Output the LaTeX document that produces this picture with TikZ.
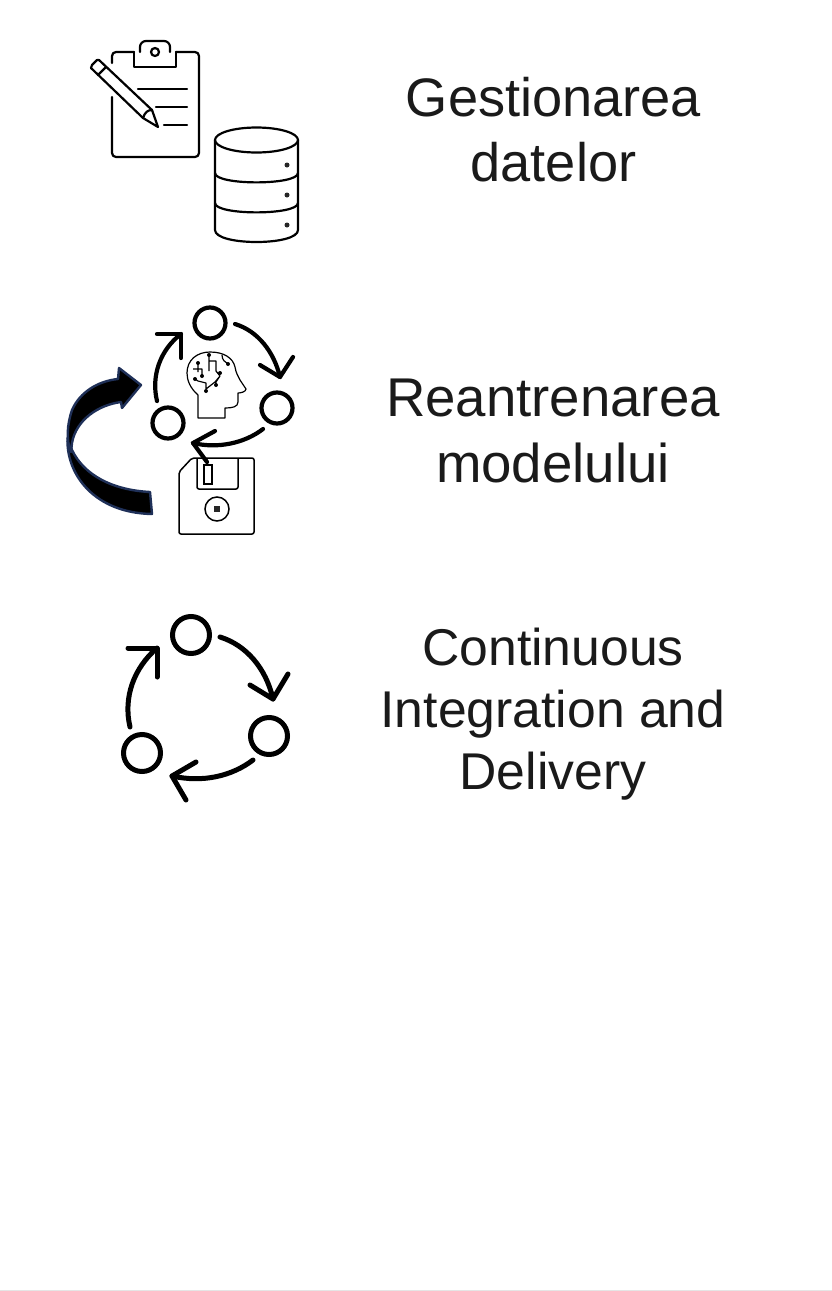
\documentclass[tikz,border=0pt]{standalone}
\usepackage{fontspec}
\setmainfont{Liberation Sans}
\definecolor{ink}{HTML}{1A1A1A}
\definecolor{navy}{HTML}{1F3058}
\tikzset{
  x=1pt,y=-1pt,
  labela/.style={font=\fontsize{54.6}{62}\selectfont,text=ink,anchor=base,inner sep=0pt},
  labelc/.style={font=\fontsize{54.2}{62}\selectfont,text=ink,anchor=base,inner sep=0pt},
  labelb/.style={font=\fontsize{51.7}{62}\selectfont,text=ink,anchor=base,inner sep=0pt},
  thin icon/.style={draw=black,line width=2.2pt,line join=round,line cap=round},
  cycle small/.style={draw=black,line width=4.2pt,line cap=round,line join=round},
  cycle big/.style={draw=black,line width=5pt,line cap=round,line join=round},
  ring/.style={circle,draw=black,fill=white,inner sep=0pt},
  dot/.style={circle,fill=black!85,inner sep=0pt,minimum size=5pt},
  brain/.style={draw=black,line width=1.2pt,line join=round},
  band/.style={navy,line width=2.4pt,fill=black,line join=round},
}
\begin{document}
\begin{tikzpicture}
\useasboundingbox (0,0) rectangle (832,1291);
\fill[white] (0,0) rectangle (832,1291);
\draw[black!10,line width=1pt] (0,1290) -- (832,1290);
% clipboard
\draw[thin icon,rounded corners=4pt] (112,63) -- (112,52) -- (134,52);
\draw[thin icon,rounded corners=4pt] (176,52) -- (199,52) -- (199,157) -- (112,157) -- (112,97);
\draw[thin icon] (134,52) -- (134,67) -- (176,67) -- (176,52);
\draw[thin icon,rounded corners=6pt] (140,52) -- (140,41) -- (170,41) -- (170,52);
\node[circle,draw=black,line width=2.2pt,minimum size=8pt,inner sep=0pt] (hole) at (155,52) {};
\draw[thin icon] (138,89) -- (187,89) (156,107) -- (187,107) (164,125) -- (187,125);
% pencil
\draw[thin icon] (99,60) -- (152,110) -- (158,127) -- (143,118) -- (91,68) -- (92,65) -- (97,60) -- cycle (98,75) -- (106,67) (143,118) .. controls (145,112) and (148,110) .. (152,110);
% database
\draw[thin icon] (215,140) -- (215,230) .. controls (215,246) and (298,246) .. (298,230) -- (298,140);
\draw[thin icon] (256.5,140) ellipse[x radius=41.5,y radius=12.5];
\draw[thin icon] (215,173) .. controls (215,185.5) and (298,185.5) .. (298,173);
\draw[thin icon] (215,203) .. controls (215,215.5) and (298,215.5) .. (298,203);
\node[dot] (d1) at (287,165) {};
\node[dot] (d2) at (287,195) {};
\node[dot] (d3) at (287,225) {};
% big arrow
\draw[band]
 (67.5,438) .. controls (66,475) and (95,513) .. (152,514) -- (150,492)
 .. controls (112,490) and (84,475) .. (72,450) -- cycle;
\draw[band]
 (71,452) .. controls (66,440) and (67,425) .. (72,410)
 .. controls (80,392) and (98,381) .. (118,379) -- (119,368) -- (141,385) -- (122,408) -- (121,402)
 .. controls (98,405) and (76,420) .. (72,443) -- cycle;
% floppy
\draw[draw=black,line width=1.5pt,line join=round,rounded corners=2pt] (192,458) -- (254,458) -- (254,534) -- (179,534) -- (179,472) -- cycle;
\draw[draw=black,line width=1.5pt,rounded corners=2pt] (197,458) -- (197,489) -- (238,489) -- (238,458);
\draw[draw=black,line width=1.5pt] (204,465) rectangle (212,484);
\node[circle,draw=black,line width=1.5pt,minimum size=24pt,inner sep=0pt] (fd) at (217,509) {};
\fill[black!85] (214,506) rectangle (220,512);
% small cycle
\node[ring,line width=4.2pt,minimum size=31pt] (a) at (210,323) {};
\node[ring,line width=4.2pt,minimum size=31pt] (b) at (277,408) {};
\node[ring,line width=4.2pt,minimum size=31pt] (c) at (168,423) {};
\draw[cycle small] (235,324) .. controls (258,331) and (274,352) .. (280,377);
\draw[cycle small] (260,365) -- (280,377) -- (293,357);
\draw[cycle small] (263,429) .. controls (245,443) and (218,449) .. (193,443);
\draw[cycle small] (215,431) -- (193,443) -- (207,462);
\draw[cycle small] (157,401) .. controls (151,376) and (160,350) .. (181,334);
\draw[cycle small] (157,334) -- (181,334) -- (181,358);
% head
\draw[brain] (198,418) -- (198,395) .. controls (190,388) and (187,380) .. (187,373) .. controls (187,360) and (197,352) .. (210,352) .. controls (224,352) and (233,358) .. (235,367) .. controls (236,373) and (238,376) .. (240,380) -- (246,389) .. controls (246,392) and (240,393) .. (238,393) -- (238,402) .. controls (238,407) and (232,408) .. (225,408) -- (225,418) -- cycle;
\draw[brain] (198,363) -- (198,372) (193,369) -- (202,369) -- (202,376) (209,355) -- (209,371) (209,361) -- (216,361) -- (216,371) -- (220,376) (220,376) -- (215,382) -- (206,389) (206,389) -- (206,383) -- (198,381) -- (195,379) (220,376) -- (216,382) -- (216,385) (222,355) .. controls (222,360) and (225,362) .. (228,364);
\foreach \p in {(198,363),(202,376),(209,355),(220,373),(195,379),(206,391),(216,385),(228,364)}{\fill[black] \p circle[radius=2pt];}
% large cycle
\node[ring,line width=5pt,minimum size=37pt] (p) at (191,635) {};
\node[ring,line width=5pt,minimum size=37pt] (q) at (269,736) {};
\node[ring,line width=5pt,minimum size=37pt] (r) at (142,753) {};
\draw[cycle big] (220,637) .. controls (246,645) and (266,668) .. (273,699);
\draw[cycle big] (250,685) -- (273,699) -- (288,674);
\draw[cycle big] (253,760) .. controls (232,776) and (203,783) .. (172,776);
\draw[cycle big] (196,762) -- (172,776) -- (186,800);
\draw[cycle big] (130,727) .. controls (123,697) and (134,668) .. (157,648);
\draw[cycle big] (128,648) -- (157,648) -- (157,677);
% labels
\node[labelc] (t1) at (553.5,116) {Gestionarea};
\node[labelc] (t2) at (553.5,181) {datelor};
\node[labela] (t3) at (553,416) {Reantrenarea};
\node[labela] (t4) at (553,482) {modelului};
\node[labelb] (t5) at (553,665) {Continuous};
\node[labelb] (t6) at (553,727) {Integration and};
\node[labelb] (t7) at (553,789) {Delivery};
\end{tikzpicture}
\end{document}
